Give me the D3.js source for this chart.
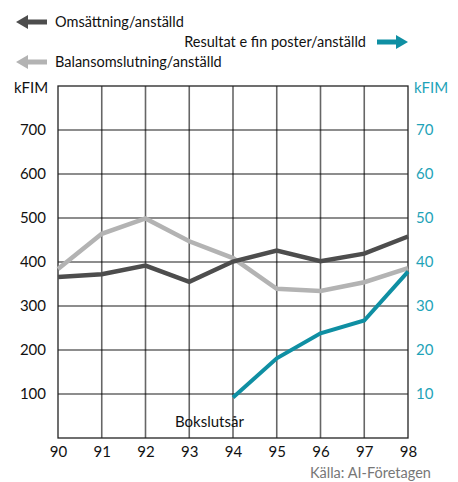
<!DOCTYPE html>
<html>
<head>
<meta charset="utf-8">
<script src="https://cdn.jsdelivr.net/npm/d3@7"></script>
<style>
  body { margin: 0; background: #fff; }
  text { font-family: Lato, "Open Sans", sans-serif; }
</style>
</head>
<body>
<div id="chart"></div>
<script>
var width = 458, height = 482;

// data
var years = [90, 91, 92, 93, 94, 95, 96, 97, 98];
var omsattning = [366, 372, 392, 355, 401, 426, 402, 419, 458];
var balans = [384, 464, 499, 447, 409, 339, 334, 354, 386];
var resultatYears = [94, 95, 96, 97, 98];
var resultat = [9.2, 18.1, 23.8, 26.7, 37.8];
var leftTicks = [100, 200, 300, 400, 500, 600, 700];
var rightTicks = [10, 20, 30, 40, 50, 60, 70];

var dark = "#4d4d4d", light = "#b3b3b3", teal = "#0f8fa3", tealText = "#1ea3b8";
var font = 'Lato, "Open Sans", sans-serif';

var svg = d3.select("#chart").append("svg")
  .attr("width", width)
  .attr("height", height);

var x = d3.scaleLinear().domain([90, 98]).range([58, 408]);
var yL = d3.scaleLinear().domain([0, 800]).range([438, 86]);
var yR = d3.scaleLinear().domain([0, 80]).range([438, 86]);

// grid
var grid = svg.append("g");
grid.selectAll(".h").data(leftTicks).enter().append("line")
  .attr("x1", x(90)).attr("x2", x(98))
  .attr("y1", d => yL(d)).attr("y2", d => yL(d))
  .attr("stroke", "#000").attr("stroke-opacity", 0.6).attr("stroke-width", 1.6);
grid.selectAll(".v").data(years.slice(1, -1)).enter().append("line")
  .attr("x1", d => x(d)).attr("x2", d => x(d))
  .attr("y1", yL(800)).attr("y2", yL(0))
  .attr("stroke", "#000").attr("stroke-opacity", 0.6).attr("stroke-width", 1.6);

// frame
svg.append("rect")
  .attr("x", x(90)).attr("y", yL(800))
  .attr("width", x(98) - x(90)).attr("height", yL(0) - yL(800))
  .attr("fill", "none").attr("stroke", "#222").attr("stroke-width", 1.3);

// axes
var xAxis = svg.append("g")
  .attr("transform", "translate(0," + yL(0) + ")")
  .call(d3.axisBottom(x).tickValues(years).tickSize(0).tickPadding(8));
xAxis.select(".domain").remove();
xAxis.selectAll("text").attr("font-size", 15).attr("fill", "#111")
  .style("font-family", font);

var lAxis = svg.append("g")
  .attr("transform", "translate(" + x(90) + ",0)")
  .call(d3.axisLeft(yL).tickValues(leftTicks).tickSize(0).tickPadding(12));
lAxis.select(".domain").remove();
lAxis.selectAll("text").attr("font-size", 15).attr("fill", "#111")
  .style("font-family", font);

var rAxis = svg.append("g")
  .attr("transform", "translate(" + x(98) + ",0)")
  .call(d3.axisRight(yR).tickValues(rightTicks).tickSize(0).tickPadding(8));
rAxis.select(".domain").remove();
rAxis.selectAll("text").attr("font-size", 15).attr("fill", tealText)
  .style("font-family", font);

svg.append("text").attr("x", 14).attr("y", 93)
  .attr("font-size", 15).attr("fill", "#111").text("kFIM");
svg.append("text").attr("x", 414).attr("y", 93)
  .attr("font-size", 15).attr("fill", tealText).text("kFIM");

// lines
var lineL = d3.line().x((d, i) => x(years[i])).y(d => yL(d));
var lineR = d3.line().x((d, i) => x(resultatYears[i])).y(d => yR(d));

svg.append("path").datum(balans).attr("d", lineL)
  .attr("fill", "none").attr("stroke", light).attr("stroke-width", 4.5);
svg.append("path").datum(omsattning).attr("d", lineL)
  .attr("fill", "none").attr("stroke", dark).attr("stroke-width", 4.5);
svg.append("path").datum(resultat).attr("d", lineR)
  .attr("fill", "none").attr("stroke", teal).attr("stroke-width", 4);

svg.append("text").attr("x", 175).attr("y", 427)
  .attr("font-size", 15).attr("fill", "#111").text("Bokslutsår");

svg.append("text").attr("x", 310).attr("y", 478)
  .attr("font-size", 14.5).attr("fill", "#777").text("Källa: AI-Företagen");

// legend
function arrow(x0, x1, y, color) {
  var dir = x1 > x0 ? 1 : -1;
  var head = 12 * dir;
  svg.append("line")
    .attr("x1", x0).attr("x2", x1 - head).attr("y1", y).attr("y2", y)
    .attr("stroke", color).attr("stroke-width", 5);
  svg.append("path")
    .attr("d", "M" + x1 + "," + y + "L" + (x1 - head) + "," + (y - 7) + "L" + (x1 - head) + "," + (y + 7) + "Z")
    .attr("fill", color);
}
arrow(47, 16, 22, dark);
arrow(47, 16, 62, light);
arrow(377, 408, 42, teal);

svg.append("text").attr("x", 55).attr("y", 27)
  .attr("font-size", 14.5).attr("fill", "#111").text("Omsättning/anställd");
svg.append("text").attr("x", 55).attr("y", 67)
  .attr("font-size", 14.5).attr("fill", "#111").text("Balansomslutning/anställd");
svg.append("text").attr("x", 366).attr("y", 47).attr("text-anchor", "end")
  .attr("font-size", 14.5).attr("fill", "#111").text("Resultat e fin poster/anställd");
</script>
</body>
</html>
